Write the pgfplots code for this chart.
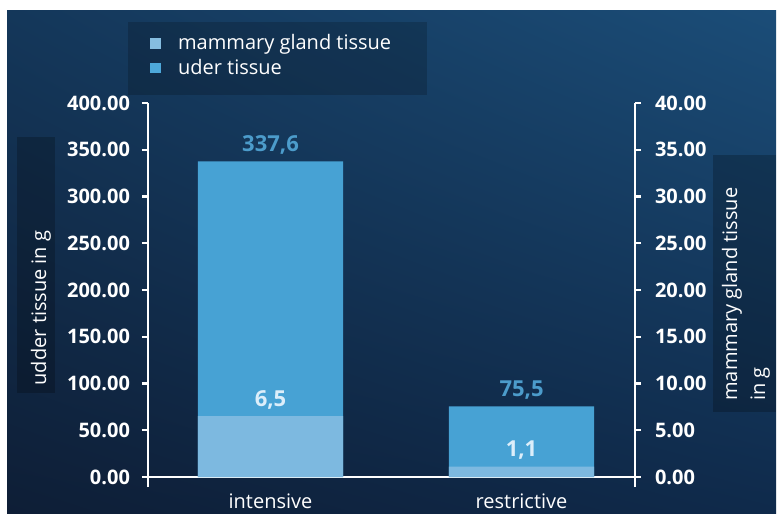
\documentclass[border=0pt]{standalone}
\usepackage{pgfplots}
\pgfplotsset{compat=1.18}
\usetikzlibrary{shadings}
\usepackage{fontspec}
\setmainfont{Open Sans}
\definecolor{bgTL}{HTML}{14375A}
\definecolor{bgTR}{HTML}{1B4D78}
\definecolor{bgBL}{HTML}{0E1E36}
\definecolor{bgBR}{HTML}{0F2A4B}
\definecolor{udder}{HTML}{47A2D4}
\definecolor{mammary}{HTML}{7DB9E0}
\definecolor{legudder}{HTML}{4DA8DA}
\definecolor{legmammary}{HTML}{86BDE0}
\definecolor{labblue}{HTML}{4C9CCB}
\definecolor{labwhite}{HTML}{DCEEFA}
\pgfkeys{/pgf/number format/assume math mode=true}
\pgfplotsset{
  mystyle/.style={
    scale only axis, width=243.5pt, height=187pt,
    xmin=-0.488, xmax=1.452, ymin=0,
    at={(74pt,-238.5pt)}, anchor=south west,
    clip=false,
    axis line style={-, white, line width=1.2pt},
    y axis line style={shorten <=-5pt},
    tick align=outside, major tick length=3pt,
    tick style={white, line width=1.1pt},
    yticklabel style={font=\fontsize{10}{12}\selectfont\bfseries, text=white,
      /pgf/number format/fixed, /pgf/number format/fixed zerofill,
      /pgf/number format/precision=2},
  }
}
\begin{document}
\begin{tikzpicture}
\begin{scope}[x=0.5pt,y=-0.5pt]
  \useasboundingbox (0,0) rectangle (778,515);
  \fill[white] (0,0) rectangle (778,515);
  \shade[upper left=bgTL, upper right=bgTR, lower left=bgBL, lower right=bgBR] (7,10) rectangle (776,513);
  \fill[black, opacity=0.18] (128,22) rectangle (427,95);
  \fill[black, opacity=0.22] (17,137) rectangle (55,393);
  \fill[black, opacity=0.22] (713,155) rectangle (776,412);
\end{scope}

\begin{axis}[mystyle, ymax=400, ytick={0,50,...,400},
  axis y line*=left, axis x line*=bottom,
  yticklabel style={xshift=-2.5pt},
  xtick={0,1}, xticklabels={intensive,restrictive},
  xtick style={draw=none},
  xticklabel style={font=\fontsize{10}{12}\selectfont, text=white, yshift=-2pt},
  ylabel={udder tissue in g},
  every axis y label/.style={at={(axis description cs:-0.22,0.452)}, rotate=90, anchor=center,
    font=\fontsize{10}{12}\selectfont, text=white},
]
\addplot[ybar, bar shift=0pt, bar width=0.578, fill=udder, draw=none,
  nodes near coords={\pgfmathprintnumber[fixed,fixed zerofill,precision=1,use comma]{\pgfplotspointmeta}},
  every node near coord/.append style={font=\fontsize{11}{13}\selectfont\bfseries, text=labblue, anchor=south}]
  coordinates {(0,337.6) (1,75.5)};
\end{axis}

\begin{axis}[mystyle, ymax=40, ytick={0,5,...,40},
  axis y line*=right, axis x line=none,
  yticklabel style={xshift=3.5pt},
  ylabel={mammary gland tissue\\in g},
  every axis y label/.style={at={(axis description cs:1.228,0.489)}, rotate=90, anchor=center,
    align=left, font=\fontsize{10}{14}\selectfont, text=white},
  legend image code/.code={\fill[#1] (0pt,-2.7pt) rectangle (5.4pt,2.7pt);},
  legend style={draw=none, fill=none, at={(axis description cs:0.004,1.126)}, anchor=west,
    font=\fontsize{10}{12}\selectfont, inner sep=0pt, row sep=2pt,
    nodes={text=white, inner sep=0.5pt},
    /tikz/every odd column/.append style={column sep=8pt}},
  legend cell align=left,
]
\addlegendimage{fill=legmammary, draw=none}
\addlegendentry{mammary gland tissue}
\addlegendimage{fill=legudder, draw=none}
\addlegendentry{uder tissue}
\addplot[ybar, bar shift=0pt, bar width=0.578, fill=mammary, draw=none, forget plot,
  nodes near coords={\pgfmathprintnumber[fixed,fixed zerofill,precision=1,use comma]{\pgfplotspointmeta}},
  every node near coord/.append style={font=\fontsize{11}{13}\selectfont\bfseries, text=labwhite, anchor=south}]
  coordinates {(0,6.5) (1,1.1)};
\end{axis}
\end{tikzpicture}
\end{document}
